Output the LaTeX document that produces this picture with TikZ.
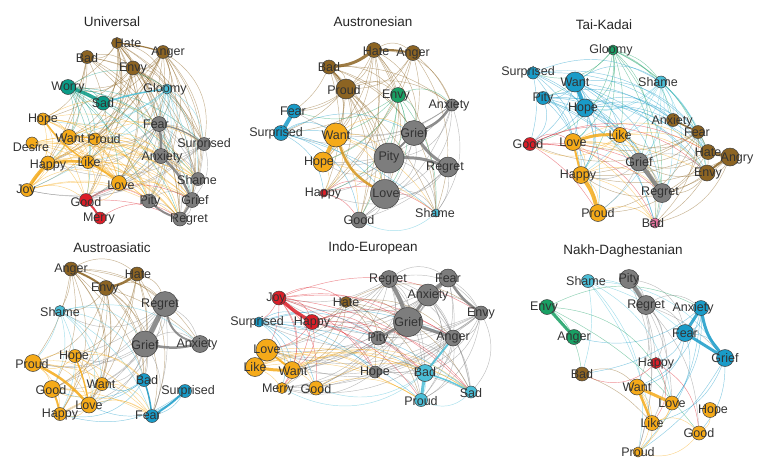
\documentclass[tikz,border=0pt]{standalone}
\usepackage{fontspec}
\setmainfont{Liberation Sans}
\usetikzlibrary{positioning}
\pgfdeclarelayer{bg}
\pgfsetlayers{bg,main}

\definecolor{emoBrown}{RGB}{140,100,35}
\definecolor{emoOrange}{RGB}{245,170,25}
\definecolor{emoGray}{RGB}{125,125,125}
\definecolor{emoTeal}{RGB}{10,155,135}
\definecolor{emoCyan}{RGB}{75,190,215}
\definecolor{emoBlue}{RGB}{25,155,200}
\definecolor{emoGreen}{RGB}{25,160,100}
\definecolor{emoRed}{RGB}{220,30,40}
\definecolor{emoPink}{RGB}{230,115,160}

\tikzset{
    % --- Concept circle ---
    emo/.style = {circle, draw=black!75, line width=0.5pt, inner sep=0pt},
    % --- Concept label ---
    lab/.style = {font=\fontsize{12.5}{13}\selectfont, text=black!80, inner sep=0pt},
    % --- Panel title ---
    title/.style = {font=\fontsize{13.5}{15}\selectfont, text=black!85},
    % --- Thin colexification link ---
    web/.style = {line width=0.45pt, draw opacity=0.5},
    % --- Strong link ---
    tie/.style = {draw opacity=0.85, line cap=round}
}

% nodes of one panel: prefix, entries i/x/y/size/colour/text/dx/dy
\newcommand\emonodes[2]{%
    \foreach \i/\x/\y/\d/\c/\t/\dx/\dy in {#2} {
        \xglobal\colorlet{#1\i}{\c}
        \node[emo, fill=\c, minimum size=\d pt] (#1\i) at (\x,\y) {};
        \node[lab] (#1\i-t) at (\x+\dx,\y+\dy) {\t};
    }}

% thin links of one panel: prefix, count, how many of 10 are kept
\newcommand\emoweb[3]{%
    \foreach \i in {1,...,#2} {
        \foreach \j in {1,...,#2} {
            \pgfmathtruncatemacro\hsh{mod(\i*7+\j*13+\i*\j,10)}
            \pgfmathtruncatemacro\bnd{12+mod(\i*5+\j*3,4)*7}
            \ifnum\i<\j \ifnum\hsh<#3
                \draw[web, draw=#1\i] (#1\i) to[bend left=\bnd] (#1\j);
            \fi\fi
        }}}

% strong links: prefix, entries a/b/width/colour/bend
\newcommand\emoties[2]{%
    \foreach \a/\b/\w/\c/\bd in {#2}
        \draw[tie, draw=\c, line width=\w pt] (#1\a) to[bend left=\bd] (#1\b);
}

\begin{document}
\begin{tikzpicture}[x=1pt, y=-1pt]
\useasboundingbox (0,0) rectangle (768,472);

% ---------------------------------------------------------
% Titles
% ---------------------------------------------------------
\node[title] (tU) at (112,22)  {Universal};
\node[title] (tA) at (373,22)  {Austronesian};
\node[title] (tT) at (604,25)  {Tai-Kadai};
\node[title] (tS) at (112,248) {Austroasiatic};
\node[title] (tI) at (373,248) {Indo-European};
\node[title] (tN) at (623,251) {Nakh-Daghestanian};

% ---------------------------------------------------------
% Universal
% ---------------------------------------------------------
\emonodes{U}{1/117/43/11/emoBrown/Hate/11/0, 2/87/57/13/emoBrown/Bad/0/1,
    3/163/52/13/emoBrown/Anger/5/0, 4/133/68/14/emoBrown/Envy/0/0,
    5/68/87/15/emoTeal/Worry/0/0, 6/167/89/10/emoCyan/Gloomy/-2/0,
    7/103/103/14/emoTeal/Sad/0/0, 8/43/119/12/emoOrange/Hope/0/0,
    9/159/124/15/emoGray/Fear/-3/0, 10/69/137/15/emoOrange/Want/1/1,
    11/95/139/12/emoOrange/Proud/9/0, 12/204/144/13/emoGray/Surprised/0/0,
    13/32/143/12/emoOrange/Desire/-1/4, 14/48/163/14/emoOrange/Happy/0/2,
    15/88/162/13/emoOrange/Like/1/0, 16/161/156/15/emoGray/Anxiety/1/1,
    17/198/179/13/emoGray/Shame/-1/1, 18/27/190/13/emoOrange/Joy/-1/0,
    19/119/183/15/emoOrange/Love/2/2, 20/86/200/13/emoRed/Good/0/2,
    21/149/201/14/emoGray/Pity/1/0, 22/192/200/15/emoGray/Grief/3/0,
    23/100/218/12/emoRed/Merry/-1/0, 24/180/219/14/emoGray/Regret/9/0}

% ---------------------------------------------------------
% Austronesian
% ---------------------------------------------------------
\emonodes{A}{1/374/50/15/emoBrown/Hate/2/1, 2/413/53/15/emoBrown/Anger/0/0,
    3/329/67/14/emoBrown/Bad/0/0, 4/346/89/20/emoBrown/Proud/-2/1,
    5/398/95/15/emoGreen/Envy/-2/0, 6/452/105/12/emoGray/Anxiety/-3/0,
    7/294/111/14/emoBlue/Fear/-1/0, 8/281/133/15/emoBlue/Surprised/-5/0,
    9/336/135/24/emoOrange/Want/0/0, 10/414/133/25/emoGray/Grief/0/0,
    11/389/158/30/emoGray/Pity/0/-1, 12/323/162/20/emoOrange/Hope/-4/0,
    13/448/167/20/emoGray/Regret/-3/0, 14/324/193/8/emoRed/Happy/-1/0,
    15/385/194/29/emoGray/Love/1/-1, 16/436/213/8/emoCyan/Shame/-1/0,
    17/359/220/16/emoGray/Good/0/0}

% ---------------------------------------------------------
% Tai-Kadai
% ---------------------------------------------------------
\emonodes{T}{1/613/50/10/emoGreen/Gloomy/-2/0, 2/533/73/12/emoBlue/Surprised/-5/-1,
    3/575/82/20/emoBlue/Want/0/0, 4/661/82/12/emoCyan/Shame/-3/0,
    5/543/98/13/emoBlue/Pity/0/0, 6/585/108/18/emoBlue/Hope/-2/0,
    7/673/120/13/emoBrown/Anxiety/-1/1, 8/698/132/13/emoBrown/Fear/-1/0,
    9/620/135/15/emoOrange/Like/0/0, 10/530/144/13/emoRed/Good/-2/0,
    11/573/142/17/emoOrange/Love/0/0, 12/708/152/15/emoBrown/Hate/0/0,
    13/730/157/18/emoBrown/Angry/7/1, 14/639/162/18/emoGray/Grief/0/0,
    15/707/173/16/emoBrown/Envy/1/0, 16/581/175/17/emoOrange/Happy/-3/0,
    17/662/193/19/emoGray/Regret/-2/-1, 18/598/213/17/emoOrange/Proud/0/0,
    19/655/223/10/emoPink/Bad/-2/0}

% ---------------------------------------------------------
% Austroasiatic
% ---------------------------------------------------------
\emonodes{S}{1/71/269/14/emoBrown/Anger/0/0, 2/137/274/14/emoBrown/Hate/1/0,
    3/106/288/15/emoBrown/Envy/-1/0, 4/165/304/25/emoGray/Regret/-5/0,
    5/60/311/11/emoCyan/Shame/0/1, 6/145/344/26/emoGray/Grief/0/1,
    7/200/344/17/emoGray/Anxiety/-3/0, 8/75/356/13/emoOrange/Hope/-1/0,
    9/33/363/17/emoOrange/Proud/-1/1, 10/144/380/13/emoBlue/Bad/3/0,
    11/102/384/13/emoOrange/Want/-1/0, 12/52/389/17/emoOrange/Good/-1/1,
    13/185/391/13/emoBlue/Surprised/3/0, 14/89/405/16/emoOrange/Love/0/0,
    15/60/414/13/emoOrange/Happy/0/0, 16/152/416/13/emoBlue/Fear/-4/-1}

% ---------------------------------------------------------
% Indo-European
% ---------------------------------------------------------
\emonodes{I}{1/389/279/17/emoGray/Regret/-1/0, 2/448/278/18/emoGray/Fear/0/0,
    3/428/295/22/emoGray/Anxiety/0/0, 4/279/298/14/emoRed/Joy/-3/0,
    5/346/302/11/emoBrown/Hate/0/0, 6/481/313/14/emoGray/Envy/0/0,
    7/408/322/29/emoGray/Grief/0/0, 8/259/322/10/emoBlue/Surprised/-2/0,
    9/312/322/15/emoRed/Happy/0/0, 10/378/338/14/emoGray/Pity/0/0,
    11/453/338/16/emoGray/Anger/0/-1, 12/267/350/22/emoOrange/Love/0/-1,
    13/255/367/19/emoOrange/Like/0/0, 14/292/370/17/emoOrange/Want/1/1,
    15/375/372/12/emoGray/Hope/0/0, 16/425/373/17/emoCyan/Bad/0/-1,
    17/282/388/11/emoOrange/Merry/-4/1, 18/316/388/14/emoOrange/Good/0/1,
    19/471/392/12/emoCyan/Sad/0/1, 20/421/400/13/emoCyan/Proud/0/1}

% ---------------------------------------------------------
% Nakh-Daghestanian
% ---------------------------------------------------------
\emonodes{N}{1/629/279/19/emoGray/Pity/0/0, 2/588/281/13/emoCyan/Shame/-2/0,
    3/547/307/15/emoGreen/Envy/-3/0, 4/646/305/19/emoGray/Regret/0/0,
    5/701/308/15/emoBlue/Anxiety/-8/0, 6/685/333/17/emoBlue/Fear/0/0,
    7/574/337/15/emoGreen/Anger/0/0, 8/725/358/17/emoBlue/Grief/0/0,
    9/656/363/11/emoRed/Happy/0/0, 10/582/374/14/emoBrown/Bad/0/0,
    11/637/387/16/emoOrange/Want/0/0, 12/672/403/14/emoOrange/Love/0/0,
    13/710/410/15/emoOrange/Hope/3/0, 14/652/423/15/emoOrange/Like/0/0,
    15/699/433/14/emoOrange/Good/0/0, 16/638/452/10/emoOrange/Proud/0/0}

% ---------------------------------------------------------
% Links (behind the circles)
% ---------------------------------------------------------
\begin{pgfonlayer}{bg}
\emoweb{U}{24}{8}
\emoweb{A}{17}{8}
\emoweb{T}{19}{8}
\emoweb{S}{16}{8}
\emoweb{I}{20}{8}
\emoweb{N}{16}{5}

\emoties{U}{5/7/3.5/emoTeal/5, 7/6/1.5/emoCyan/5, 18/14/3.5/emoOrange/5,
    14/15/2.5/emoOrange/5, 8/15/1.5/emoOrange/-10, 15/19/2/emoOrange/5,
    10/11/1.2/emoOrange/5, 9/16/2.5/emoGray/5, 16/22/2.5/emoGray/10,
    22/24/2/emoGray/5, 21/24/2/emoGray/-10, 9/12/1.2/emoGray/10,
    20/23/2/emoRed/5, 1/3/1.2/emoBrown/5}
\emoties{A}{3/1/3/emoBrown/-15, 1/2/2/emoBrown/5, 7/8/4/emoBlue/0,
    9/12/4/emoOrange/0, 9/15/2.5/emoOrange!70!emoBrown/-20,
    10/6/2.5/emoGray/-15, 10/13/3/emoGray/-10, 11/13/3/emoGray/10,
    11/10/2/emoGray/0, 3/4/1.2/emoBrown/5}
\emoties{T}{3/6/4/emoBlue/0, 11/9/3/emoOrange/10, 16/18/4/emoOrange/10,
    11/16/2/emoOrange/0, 14/17/4/emoGray/0, 12/13/3/emoBrown/0,
    15/13/2/emoBrown/5, 7/8/1.5/emoBrown/0}
\emoties{S}{4/6/5/emoGray/0, 4/7/2/emoGray/-30, 6/7/2.5/emoGray/-10,
    1/3/2/emoBrown/5, 3/2/2.5/emoBrown/-10, 9/14/2.5/emoOrange/10,
    12/15/2/emoOrange/5, 8/14/1.5/emoOrange/5, 13/16/2/emoBlue/5,
    10/16/1.5/emoBlue/5}
\emoties{I}{4/9/3.5/emoRed/-5, 1/7/4/emoGray/5, 2/3/3.5/emoGray/0,
    2/6/2.5/emoGray/-10, 3/7/2.5/emoGray/0, 7/11/3/emoGray/0,
    7/10/2.5/emoGray/0, 12/13/4/emoOrange/0, 13/14/3/emoOrange/-5,
    12/14/2/emoOrange/0, 16/20/3/emoCyan/0, 16/19/1.5/emoCyan/5,
    11/16/2/emoCyan/0}
\emoties{N}{1/4/4/emoGray/0, 3/7/3/emoGreen/0, 5/6/3/emoBlue/0,
    5/8/3/emoBlue/-15, 6/8/3/emoBlue/0, 11/12/3/emoOrange/0,
    11/14/2.5/emoOrange/0}
\end{pgfonlayer}

\end{tikzpicture}
\end{document}
